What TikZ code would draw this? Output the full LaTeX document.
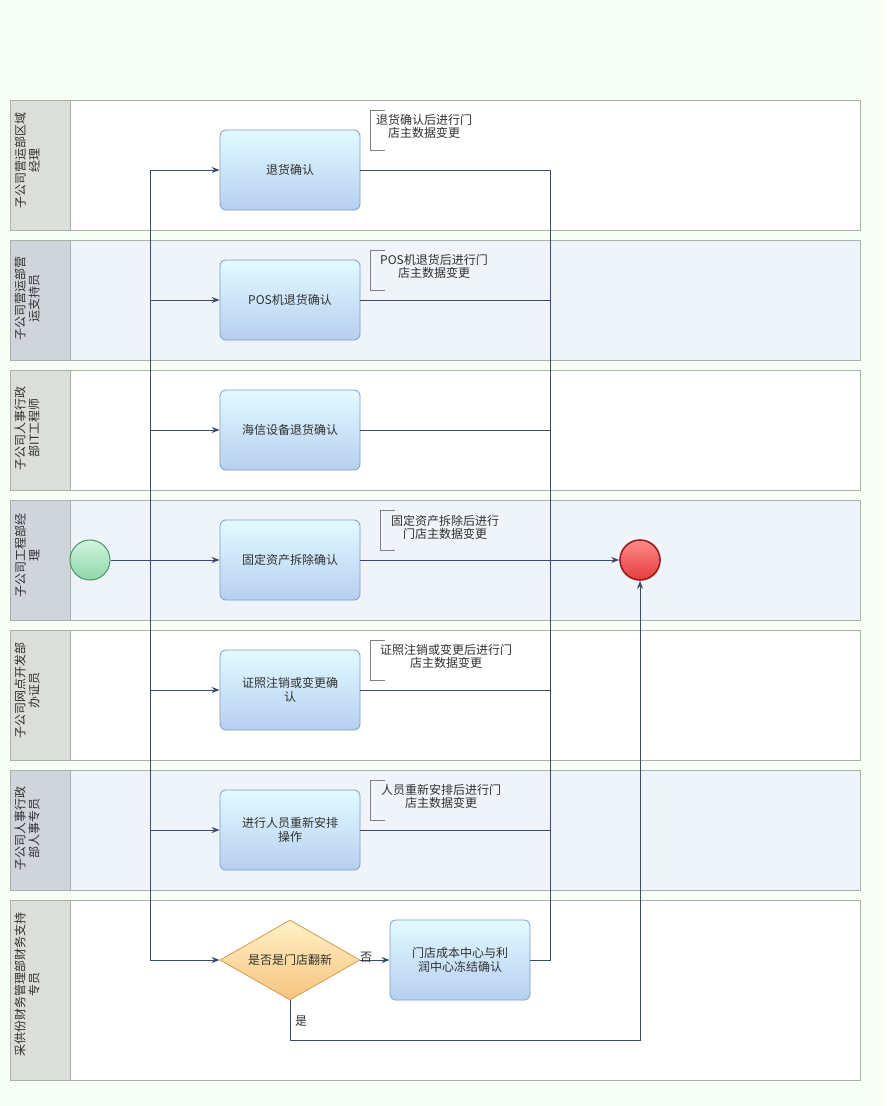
\documentclass[tikz,border=0pt]{standalone}
\usepackage{fontspec}
\setmainfont{Noto Sans CJK SC}
\usetikzlibrary{arrows.meta,shapes.geometric,calc}
\definecolor{pagebg}{HTML}{F8FFF4}
\definecolor{laneline}{HTML}{A9B2A9}
\definecolor{hdrA}{HTML}{DCDEDA}
\definecolor{hdrB}{HTML}{CFD5DB}
\definecolor{bodyA}{HTML}{FFFFFF}
\definecolor{bodyB}{HTML}{EEF4F9}
\definecolor{flow}{HTML}{3A4A6A}
\definecolor{txt}{HTML}{303030}
\definecolor{taskT}{HTML}{E2FAFF}
\definecolor{taskB}{HTML}{B6CFF0}
\definecolor{taskD}{HTML}{7D9CC6}
\definecolor{diaT}{HTML}{FFF2C6}
\definecolor{diaB}{HTML}{F6C47E}
\definecolor{diaD}{HTML}{D49A50}
\definecolor{startT}{HTML}{D2F5DF}
\definecolor{startB}{HTML}{8ED6A8}
\definecolor{startD}{HTML}{4E9A6C}
\definecolor{endT}{HTML}{FF8A8A}
\definecolor{endB}{HTML}{E43C3C}
\definecolor{endD}{HTML}{9A1E1E}
\definecolor{annline}{HTML}{808080}
\tikzset{
  lanebody/.style={draw=laneline, line width=0.75pt},
  lanehdr/.style={rotate=90, align=center, text=txt, font=\fontsize{9pt}{10.5pt}\selectfont},
  taskbox/.style={draw=taskD, line width=0.6pt, rounded corners=4.5pt, top color=taskT, bottom color=taskB,
    minimum width=105pt, minimum height=60pt, align=center, text=txt, font=\fontsize{9pt}{10.5pt}\selectfont, inner sep=2pt},
  decision/.style={diamond, aspect=1.75, draw=diaD, line width=0.6pt, top color=diaT, bottom color=diaB,
    minimum width=105pt, minimum height=60pt, inner sep=0pt, text=txt, font=\fontsize{9pt}{10.5pt}\selectfont},
  startev/.style={circle, draw=startD, line width=0.8pt, top color=startT, bottom color=startB, minimum size=30pt, inner sep=0pt},
  endev/.style={circle, draw=endD, line width=1.2pt, top color=endT, bottom color=endB, minimum size=30pt, inner sep=0pt},
  flowline/.style={draw=flow, line width=0.75pt},
  flowarr/.style={flowline, -{Stealth[length=6pt,width=4.5pt]}},
  anntext/.style={align=center, text=txt, font=\fontsize{9pt}{9.75pt}\selectfont, inner sep=0pt},
  annbr/.style={draw=annline, line width=0.6pt},
  smalllbl/.style={text=txt, font=\fontsize{9pt}{10pt}\selectfont, inner sep=0pt}
}
\begin{document}
\begin{tikzpicture}[x=0.75pt,y=-0.75pt]
\useasboundingbox (0,0) rectangle (886,1106);
\fill[pagebg] (0,0) rectangle (886,1106);

% lanes
\foreach \ya/\yb/\bc/\hc in {100/230/bodyA/hdrA, 240/360/bodyB/hdrB, 370/490/bodyA/hdrA, 500/620/bodyB/hdrB, 630/760/bodyA/hdrA, 770/890/bodyB/hdrB, 900/1080/bodyA/hdrA}{
  \fill[\bc] (10,\ya) rectangle (860,\yb);
  \fill[\hc] (10,\ya) rectangle (70,\yb);
  \draw[lanebody] (10,\ya) rectangle (860,\yb);
  \draw[lanebody] (70,\ya) -- (70,\yb);
}
\node[lanehdr] (h1) at (27,160) {子公司营运部区域\\经理};
\node[lanehdr] (h2) at (27,298) {子公司营运部营\\运支持员};
\node[lanehdr] (h3) at (27,428) {子公司人事行政\\部IT工程师};
\node[lanehdr] (h4) at (27,555) {子公司工程部经\\理};
\node[lanehdr] (h5) at (27,690) {子公司网点开发部\\办证员};
\node[lanehdr] (h6) at (27,828) {子公司人事行政\\部人事专员};
\node[lanehdr] (h7) at (27,984) {采供份财务管理部财务支持\\专员};

% events
\node[startev] (start) at (90,560) {};
\node[endev] (end) at (640,560) {};

% tasks
\node[taskbox] (t1) at (290,170) {退货确认};
\node[taskbox] (t2) at (290,300) {POS机退货确认};
\node[taskbox] (t3) at (290,430) {海信设备退货确认};
\node[taskbox] (t4) at (290,560) {固定资产拆除确认};
\node[taskbox] (t5) at (290,690) {证照注销或变更确\\认};
\node[taskbox] (t6) at (290,830) {进行人员重新安排\\操作};
\node[decision] (dia) at (290,960) {是否是门店翻新};
\node[taskbox] (t7) at (460,960) {门店成本中心与利\\润中心冻结确认};

% annotations
\coordinate (a1) at (370,110);
\draw[annbr] ($(a1)+(15,0)$) -- (a1) -- ++(0,40) -- ++(15,0);
\node[anntext] (n1) at (424,126) {退货确认后进行门\\店主数据变更};
\coordinate (a2) at (370,250);
\draw[annbr] ($(a2)+(15,0)$) -- (a2) -- ++(0,40) -- ++(15,0);
\node[anntext] (n2) at (434,266) {POS机退货后进行门\\店主数据变更};
\coordinate (a4) at (380,510);
\draw[annbr] ($(a4)+(15,0)$) -- (a4) -- ++(0,40) -- ++(15,0);
\node[anntext] (n4) at (445,527) {固定资产拆除后进行\\门店主数据变更};
\coordinate (a5) at (370,640);
\draw[annbr] ($(a5)+(15,0)$) -- (a5) -- ++(0,40) -- ++(15,0);
\node[anntext] (n5) at (446,656) {证照注销或变更后进行门\\店主数据变更};
\coordinate (a6) at (370,780);
\draw[annbr] ($(a6)+(15,0)$) -- (a6) -- ++(0,40) -- ++(15,0);
\node[anntext] (n6) at (441,796) {人员重新安排后进行门\\店主数据变更};

% left distribution line
\coordinate (lt) at (150,170);
\coordinate (lb) at (150,960);
\draw[flowline] (lt) -- (lb);
\draw[flowarr] (start) -- (t4);
\draw[flowarr] (lt) -- (t1.west);
\draw[flowarr] (t2.west -| lt) -- (t2.west);
\draw[flowarr] (t3.west -| lt) -- (t3.west);
\draw[flowarr] (t5.west -| lt) -- (t5.west);
\draw[flowarr] (t6.west -| lt) -- (t6.west);
\draw[flowarr] (lb) -- (dia.west);

% right collection line
\coordinate (rt) at (550,170);
\draw[flowline] (t1.east) -- (rt) -- (t7.east -| rt) -- (t7.east);
\draw[flowline] (t2.east) -- (t2.east -| rt);
\draw[flowline] (t3.east) -- (t3.east -| rt);
\draw[flowline] (t5.east) -- (t5.east -| rt);
\draw[flowline] (t6.east) -- (t6.east -| rt);
\draw[flowarr] (t4.east) -- (end);

% decision outputs
\draw[flowarr] (dia.east) -- (t7.west);
\node[smalllbl] (no) at (366,957) {否};
\coordinate (yb) at (290,1040);
\draw[flowarr] (dia.south) -- (yb) -| (end.south);
\node[smalllbl] (yes) at (301,1021) {是};
\end{tikzpicture}
\end{document}
